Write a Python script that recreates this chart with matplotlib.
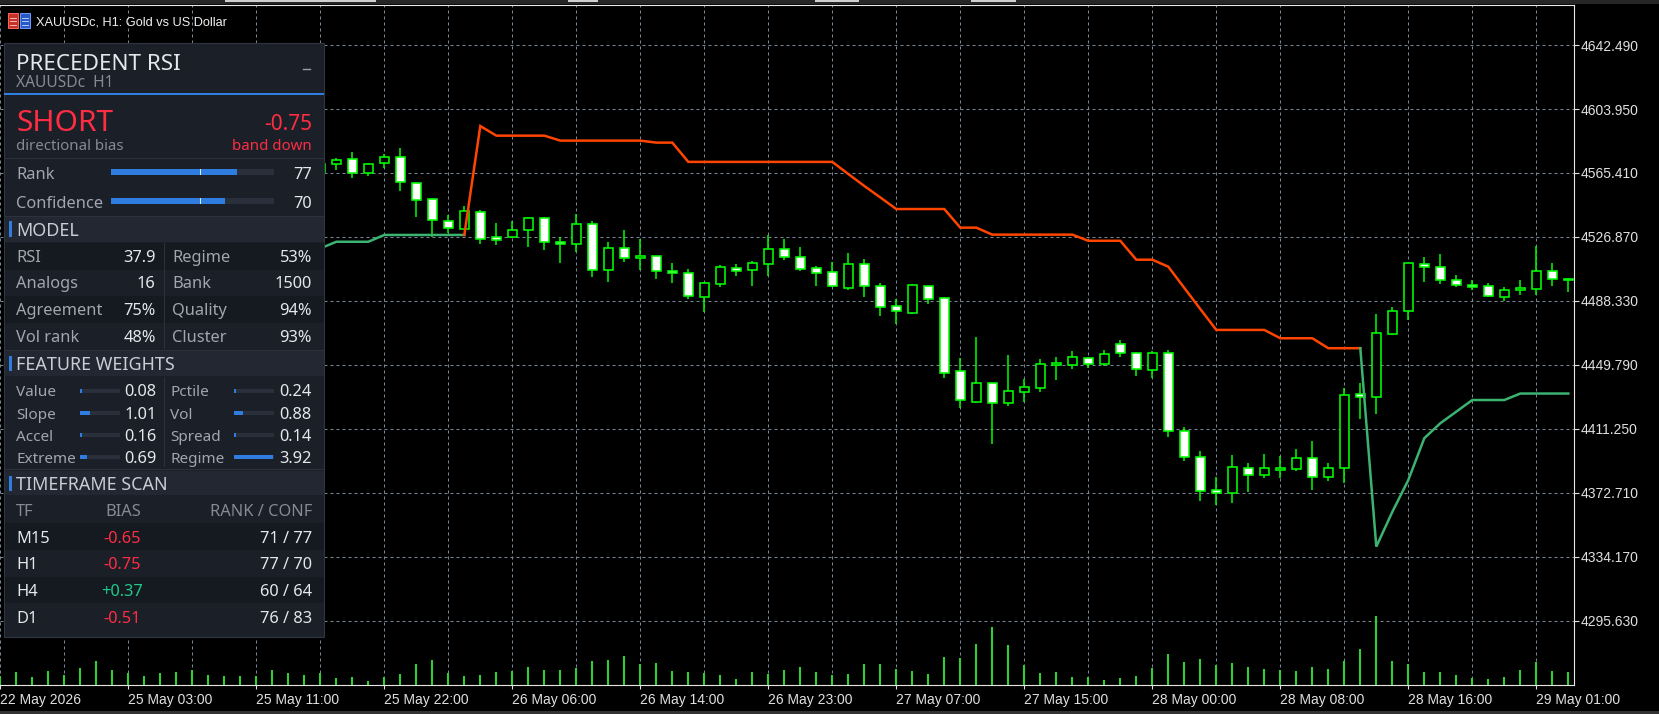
import numpy as np
import matplotlib
matplotlib.use("Agg")
import matplotlib.pyplot as plt
from matplotlib.patches import Rectangle

W, H = 1659, 714

# ---------------- chart data: XAUUSDc H1, bar 0 = 22 May 2026 ----------------
first_bar = 20  # earlier candles are hidden behind the panel

opens = [4566.0, 4570.6, 4573.7, 4565.2, 4571.3, 4574.9, 4559.2, 4549.6, 4536.3, 4531.9,
         4541.8, 4526.7, 4527.1, 4530.9, 4538.1, 4523.7, 4522.5, 4534.5, 4506.8, 4520.1,
         4514.0, 4515.3, 4506.2, 4505.0, 4491.0, 4498.8, 4508.4, 4507.2, 4510.4, 4519.5,
         4515.0, 4508.0, 4505.6, 4496.3, 4510.4, 4497.2, 4485.1, 4481.3, 4497.2, 4490.0,
         4446.0, 4427.7, 4438.8, 4427.1, 4433.7, 4436.1, 4450.0, 4450.0, 4453.8, 4450.6,
         4462.3, 4456.8, 4446.6, 4456.8, 4409.9, 4394.2, 4374.3, 4372.5, 4387.6, 4383.4,
         4386.7, 4387.0, 4393.6, 4382.5, 4387.5, 4432.3, 4430.3, 4468.6, 4482.1, 4510.4,
         4508.6, 4500.8, 4497.8, 4497.2, 4490.9, 4494.8, 4495.7, 4506.2, 4500.8]
highs = [4573.2, 4574.4, 4577.9, 4571.6, 4576.7, 4580.3, 4560.2, 4550.2, 4540.3, 4545.5,
         4543.1, 4535.1, 4536.7, 4539.1, 4539.1, 4527.1, 4540.5, 4536.5, 4523.7, 4531.1,
         4525.7, 4515.5, 4511.0, 4507.6, 4500.0, 4510.0, 4510.4, 4512.4, 4528.1, 4525.5,
         4520.9, 4509.2, 4511.8, 4517.2, 4513.6, 4499.2, 4489.5, 4498.8, 4497.4, 4490.6,
         4453.8, 4466.7, 4439.0, 4455.8, 4441.2, 4453.4, 4454.6, 4458.2, 4454.8, 4458.8,
         4464.9, 4457.6, 4458.2, 4458.8, 4412.3, 4398.0, 4382.4, 4395.6, 4390.8, 4396.2,
         4395.2, 4399.2, 4404.0, 4390.8, 4435.8, 4438.8, 4480.5, 4484.5, 4511.2, 4514.6,
         4516.6, 4503.8, 4500.7, 4499.0, 4496.6, 4501.0, 4521.5, 4511.0, 4502.2]
lows = [4564.2, 4567.4, 4562.6, 4563.8, 4568.2, 4554.8, 4539.1, 4526.7, 4529.1, 4531.9,
        4522.7, 4522.1, 4527.1, 4521.0, 4519.2, 4511.4, 4517.7, 4503.0, 4500.0, 4512.0,
        4506.8, 4501.8, 4499.4, 4489.5, 4481.5, 4496.9, 4503.4, 4497.5, 4503.4, 4513.0,
        4506.6, 4497.5, 4496.6, 4495.0, 4490.9, 4479.5, 4474.5, 4480.7, 4486.7, 4442.1,
        4423.7, 4427.1, 4402.2, 4425.3, 4427.3, 4433.5, 4440.8, 4447.6, 4448.2, 4449.4,
        4454.8, 4443.4, 4442.0, 4406.6, 4392.2, 4368.1, 4365.7, 4366.9, 4373.5, 4381.9,
        4381.7, 4386.0, 4374.5, 4379.9, 4378.6, 4417.3, 4420.5, 4467.9, 4476.9, 4500.0,
        4498.3, 4496.8, 4494.8, 4490.6, 4488.5, 4491.8, 4491.8, 4497.5, 4493.9]
closes = [4570.8, 4573.1, 4565.2, 4570.6, 4574.9, 4559.8, 4549.2, 4536.9, 4532.1, 4542.4,
          4525.5, 4524.9, 4530.9, 4538.3, 4523.7, 4522.5, 4534.5, 4506.8, 4520.1, 4514.0,
          4515.4, 4506.2, 4505.0, 4491.3, 4499.0, 4508.6, 4506.6, 4511.0, 4519.5, 4515.0,
          4507.8, 4505.4, 4497.2, 4510.4, 4497.5, 4484.9, 4482.1, 4497.8, 4489.7, 4445.2,
          4428.5, 4438.8, 4426.7, 4434.0, 4436.4, 4450.2, 4450.8, 4454.4, 4450.6, 4456.2,
          4456.8, 4447.2, 4456.8, 4409.9, 4394.2, 4374.1, 4372.5, 4388.2, 4383.4, 4387.6,
          4387.6, 4393.6, 4382.5, 4387.6, 4431.5, 4430.3, 4468.9, 4482.3, 4511.0, 4508.6,
          4500.8, 4497.8, 4496.5, 4491.2, 4494.8, 4496.0, 4506.2, 4501.4, 4501.4]

# tick volume, bars 0..98
volumes = [360, 532, 332, 572, 412, 692, 972, 628, 492, 372,
           492, 532, 612, 412, 372, 372, 372, 612, 492, 412,
           492, 292, 332, 172, 320, 452, 852, 1012, 492, 372,
           412, 532, 588, 732, 612, 612, 692, 972, 1012, 1172,
           852, 892, 572, 532, 492, 412, 252, 532, 452, 612,
           732, 532, 412, 452, 852, 852, 652, 572, 452, 1132,
           1092, 1652, 2332, 1612, 812, 492, 532, 332, 332, 212,
           292, 372, 692, 1252, 932, 1052, 812, 892, 732, 652,
           612, 572, 732, 652, 972, 1452, 2772, 972, 852, 532,
           532, 412, 292, 252, 332, 612, 932, 572, 532]

# precedent band, bars 20..98; S = support (below price), R = resistance
band = [4520.0, 4524.0, 4524.0, 4524.0, 4528.1, 4528.1, 4528.1, 4528.1, 4528.1, 4528.1,
        4593.7, 4587.9, 4587.9, 4587.9, 4587.9, 4584.9, 4584.9, 4584.9, 4584.9, 4584.9,
        4584.9, 4583.7, 4583.7, 4572.1, 4572.1, 4572.1, 4572.1, 4572.1, 4572.1, 4572.1,
        4572.1, 4572.1, 4572.1, 4564.8, 4557.6, 4550.7, 4543.7, 4543.7, 4543.7, 4543.7,
        4532.5, 4532.5, 4528.3, 4528.3, 4528.3, 4528.3, 4528.3, 4528.3, 4524.6, 4524.6,
        4524.6, 4513.2, 4513.2, 4509.0, 4496.2, 4483.5, 4470.9, 4470.9, 4470.9, 4470.9,
        4465.9, 4465.9, 4465.9, 4459.9, 4459.9, 4459.9, 4340.4, 4361.3, 4380.5, 4405.7,
        4414.7, 4421.7, 4428.7, 4428.7, 4428.7, 4432.6, 4432.6, 4432.6, 4432.6]
band_side = ("SSSSSSSSSS"
             "RRRRRRRRRRRRRRRRRRRRRRRRRRRRRRRRRRRRRRRRRRRRRRRRRRRRRRRR"
             "SSSSSSSSSSSSS")

price_ticks = [4642.490, 4603.950, 4565.410, 4526.870, 4488.330,
               4449.790, 4411.250, 4372.710, 4334.170, 4295.630]
time_ticks = [0, 8, 16, 24, 32, 40, 48, 56, 64, 72, 80, 88, 96]
time_labels = ["22 May 2026", "25 May 03:00", "25 May 11:00", "25 May 22:00",
               "26 May 06:00", "26 May 14:00", "26 May 23:00", "27 May 07:00",
               "27 May 15:00", "28 May 00:00", "28 May 08:00", "28 May 16:00",
               "29 May 01:00"]

# ---------------- panel data ----------------
bias_value = -0.75
rank, confidence, rank_marker = 77, 70, 55
model_left = [("RSI", "37.9"), ("Analogs", "16"), ("Agreement", "75%"), ("Vol rank", "48%")]
model_right = [("Regime", "53%"), ("Bank", "1500"), ("Quality", "94%"), ("Cluster", "93%")]
feat_left = ["Value", "Slope", "Accel", "Extreme"]
w_left = [0.08, 1.01, 0.16, 0.69]
feat_right = ["Pctile", "Vol", "Spread", "Regime"]
w_right = [0.24, 0.88, 0.14, 3.92]
weight_max = 4.0
tf_names = ["M15", "H1", "H4", "D1"]
tf_bias = [-0.65, -0.75, 0.37, -0.51]
tf_rank = [71, 77, 60, 76]
tf_conf = [77, 70, 64, 83]

# ---------------- colours ----------------
LIME = "#00ff00"
GRID = "#778899"
AXTXT = "#e0e0e0"
PANEL_BG = "#1b1f27"
ROW_DARK = "#151920"
SECTION_BG = "#222731"
SEP = "#2c323d"
BLUE = "#2f7de1"
RED = "#ff2d43"
GREEN_TXT = "#1fc98a"
WHITE_TXT = "#e4e7eb"
GRAY_TXT = "#838b96"
LABEL_TXT = "#a0a7b1"
PANEL_FONT = ["Noto Sans", "DejaVu Sans"]
AX_FONT = ["Liberation Sans", "DejaVu Sans"]

fig = plt.figure(figsize=(W / 100, H / 100), dpi=100, facecolor="black")

# ---------------- main price chart ----------------
top_px, bot_px, right_px = 4.7, 685.3, 1574.3
ax = fig.add_axes([0, (H - bot_px) / H, right_px / W, (bot_px - top_px) / H])
ax.set_facecolor("black")
axv = ax.twinx()  # volume scale (twinx moves host ticks left, so set sides after)
ax.set_xlim(-0.019, 98.375)
ax.set_ylim(4256.9, 4666.76)

ax.set_xticks(time_ticks)
ax.set_xticks(np.arange(4, 99, 4), minor=True)
ax.set_xticklabels(time_labels, ha="left", family=AX_FONT, fontsize=10)
ax.set_yticks(price_ticks)
ax.set_yticklabels([f"{p:.3f}" for p in price_ticks], family=AX_FONT, fontsize=10)
ax.yaxis.tick_right()
ax.tick_params(axis="x", which="major", colors=AXTXT, length=3, width=0.8, pad=2.5)
ax.tick_params(axis="x", which="minor", length=0)
ax.tick_params(axis="y", colors=AXTXT, length=3.6, width=0.8, pad=1,
               left=False, labelleft=False, right=True, labelright=True)
ax.grid(True, which="both", axis="both", color=GRID, lw=0.72, ls=(0, (3.0, 3.0)))
ax.set_axisbelow(True)
for side in ["top", "right", "bottom"]:
    ax.spines[side].set_color("#e8e8e8")
    ax.spines[side].set_linewidth(0.8)
ax.spines["left"].set_visible(False)

x = np.arange(first_bar, first_bar + len(opens))
o = np.array(opens)
c = np.array(closes)
body_fc = np.where(c >= o, "black", "white")
ax.vlines(x, lows, highs, color=LIME, lw=1.1, zorder=3)
ax.bar(x, np.maximum(np.abs(c - o), 0.3), bottom=np.minimum(o, c), width=0.55,
       color=body_fc, edgecolor=LIME, linewidth=1.15, zorder=4)

# band drawn as runs of the same side
run_x, run_y = [x[0]], [band[0]]
run_side = band_side[0]
for i in range(1, len(band)):
    if band_side[i] != run_side:
        ax.plot(run_x, run_y, color="#3cb371" if run_side == "S" else "#ff4500",
                lw=1.8, zorder=5, solid_joinstyle="miter")
        run_x, run_y = [run_x[-1]], [run_y[-1]]
        run_side = band_side[i]
    run_x.append(x[i])
    run_y.append(band[i])
ax.plot(run_x, run_y, color="#3cb371" if run_side == "S" else "#ff4500",
        lw=1.8, zorder=5, solid_joinstyle="miter")

# volumes on the twin scale at the bottom of the chart
axv.set_ylim(0, 27224)
axv.vlines(np.arange(len(volumes)), 0, volumes, color="#32cd32", lw=1.5)
axv.set_yticks([])
axv.tick_params(right=False, labelright=False)
for s in axv.spines.values():
    s.set_visible(False)

# ---------------- overlay: title strip and panel (pixel coords) ----------------
axp = fig.add_axes([0, 0, 1, 1])
axp.set_xlim(0, W)
axp.set_ylim(H, 0)
axp.axis("off")
axp.patch.set_visible(False)
axp.set_zorder(10)

axp.add_patch(Rectangle((0, 0), W, 4, fc="#262626", ec="none"))
for a, b in [(225, 376), (568, 598), (815, 859), (971, 1016)]:
    axp.add_patch(Rectangle((a, 0), b - a, 1.6, fc="#cfcfcf", ec="none"))
axp.add_patch(Rectangle((0, 711), W, 3, fc="#333333", ec="none"))

# chart window icon and title
axp.add_patch(Rectangle((7.5, 13), 10.5, 15, fc="#c8302a", ec="#ff6a5c", lw=0.7))
axp.add_patch(Rectangle((19.5, 13), 10.5, 15, fc="#2858c8", ec="#6f9cff", lw=0.7))
for yy in (17.5, 21, 24.5):
    axp.plot([9.5, 16], [yy, yy], color="#ffd0cc", lw=0.6)
    axp.plot([21.5, 28], [yy, yy], color="#d0dcff", lw=0.6)
axp.text(36.5, 25.5, "XAUUSDc, H1: Gold vs US Dollar", color="#f0f0f0",
         fontsize=9.2, family=AX_FONT, va="baseline")


def txt(xp, yp, s, size, color, ha="left"):
    axp.text(xp, yp, s, fontsize=size, color=color, ha=ha, va="baseline", family=PANEL_FONT)


def rect(x0, y0, x1, y1, color):
    axp.add_patch(Rectangle((x0, y0), x1 - x0, y1 - y0, fc=color, ec="none"))


def hbar(x0, x1, yc, h, frac, fill_min=0.0):
    rect(x0, yc - h / 2, x1, yc + h / 2, "#2a303b")
    w = max(fill_min, (x1 - x0) * frac)
    rect(x0, yc - h / 2, x0 + w, yc + h / 2, BLUE)


PL, PR, PT, PB = 4, 324, 43, 637
RX = 312  # right edge for right-aligned values
axp.add_patch(Rectangle((PL, PT), PR - PL, PB - PT, fc=PANEL_BG, ec="#303641", lw=0.8))

# header
txt(16, 70, "PRECEDENT RSI", 16.2, WHITE_TXT)
txt(16, 87.3, "XAUUSDc  H1", 11.2, GRAY_TXT)
axp.plot([303, 310], [69, 69], color="#9aa0aa", lw=1.0)
rect(PL, 93, PR, 95, BLUE)

# direction block
txt(16, 130.7, "SHORT" if bias_value < 0 else "LONG", 21.5, RED if bias_value < 0 else GREEN_TXT)
txt(RX, 130, f"{bias_value:+.2f}", 15, RED, ha="right")
txt(16, 150, "directional bias", 10.8, GRAY_TXT)
txt(RX, 150, "band down", 10.8, RED, ha="right")
rect(PL, 157.5, PR, 158.8, SEP)

# rank / confidence
for yc, name, val in [(172.3, "Rank", rank), (201.2, "Confidence", confidence)]:
    txt(16, yc + 6.5, name, 11.8, LABEL_TXT)
    hbar(111, 274, yc, 5.8, val / 100)
    mx = 111 + 163 * rank_marker / 100
    rect(mx - 0.6, yc - 3, mx + 0.6, yc + 3, "#e8e8e8")
    txt(RX, yc + 6.5, f"{val}", 11.8, WHITE_TXT, ha="right")
rect(PL, 215.5, PR, 216.8, SEP)


def section(y0, y1, title, base):
    rect(PL + 0.5, y0, PR - 0.5, y1, SECTION_BG)
    rect(9.3, base - 14.5, 11.8, base + 1, BLUE)
    txt(16, base, title, 12.9, "#c9ced6")


# model
section(217, 242, "MODEL", 235.7)
row_h = 26.6
for i, ((ln, lv), (rn, rv)) in enumerate(zip(model_left, model_right)):
    y0 = 243 + i * row_h
    if i % 2 == 0:
        rect(PL + 0.5, y0, PR - 0.5, y0 + row_h, ROW_DARK)
    base = y0 + 18.7
    txt(16, base, ln, 11.8, LABEL_TXT)
    txt(155.5, base, lv, 11.8, WHITE_TXT, ha="right")
    txt(172.3, base, rn, 11.8, LABEL_TXT)
    txt(RX, base, rv, 11.8, WHITE_TXT, ha="right")
rect(163.8, 243, 164.9, 349, SEP)
rect(PL, 349.5, PR, 350.8, SEP)

# feature weights
section(351, 376, "FEATURE WEIGHTS", 370)
for i in range(4):
    yc = 390.7 + i * 22.1
    txt(16, yc + 5.8, feat_left[i], 11, LABEL_TXT)
    hbar(80, 120, yc, 4.3, w_left[i] / weight_max, fill_min=2)
    txt(156.7, yc + 5.8, f"{w_left[i]:.2f}", 11.8, WHITE_TXT, ha="right")
    txt(170, yc + 5.8, feat_right[i], 11, LABEL_TXT)
    hbar(234, 274, yc, 4.3, w_right[i] / weight_max, fill_min=2)
    txt(RX, yc + 5.8, f"{w_right[i]:.2f}", 11.8, WHITE_TXT, ha="right")
rect(163.8, 377, 164.9, 467, SEP)
rect(PL, 468.5, PR, 469.8, SEP)

# timeframe scan
section(471, 495, "TIMEFRAME SCAN", 490)
txt(16, 516, "TF", 11.8, GRAY_TXT)
txt(123.3, 516, "BIAS", 11.8, GRAY_TXT, ha="center")
txt(RX, 516, "RANK / CONF", 11.8, GRAY_TXT, ha="right")
for i in range(4):
    y0 = 523.3 + i * 26.7
    if i % 2 == 0:
        rect(PL + 0.5, y0, PR - 0.5, y0 + 26.7, ROW_DARK)
    base = y0 + 19.4
    txt(16, base, tf_names[i], 11.8, WHITE_TXT)
    txt(122.5, base, f"{tf_bias[i]:+.2f}", 11.8, RED if tf_bias[i] < 0 else GREEN_TXT, ha="center")
    txt(RX, base, f"{tf_rank[i]} / {tf_conf[i]}", 11.8, WHITE_TXT, ha="right")

fig.savefig("out.png", dpi=100, facecolor="black")
